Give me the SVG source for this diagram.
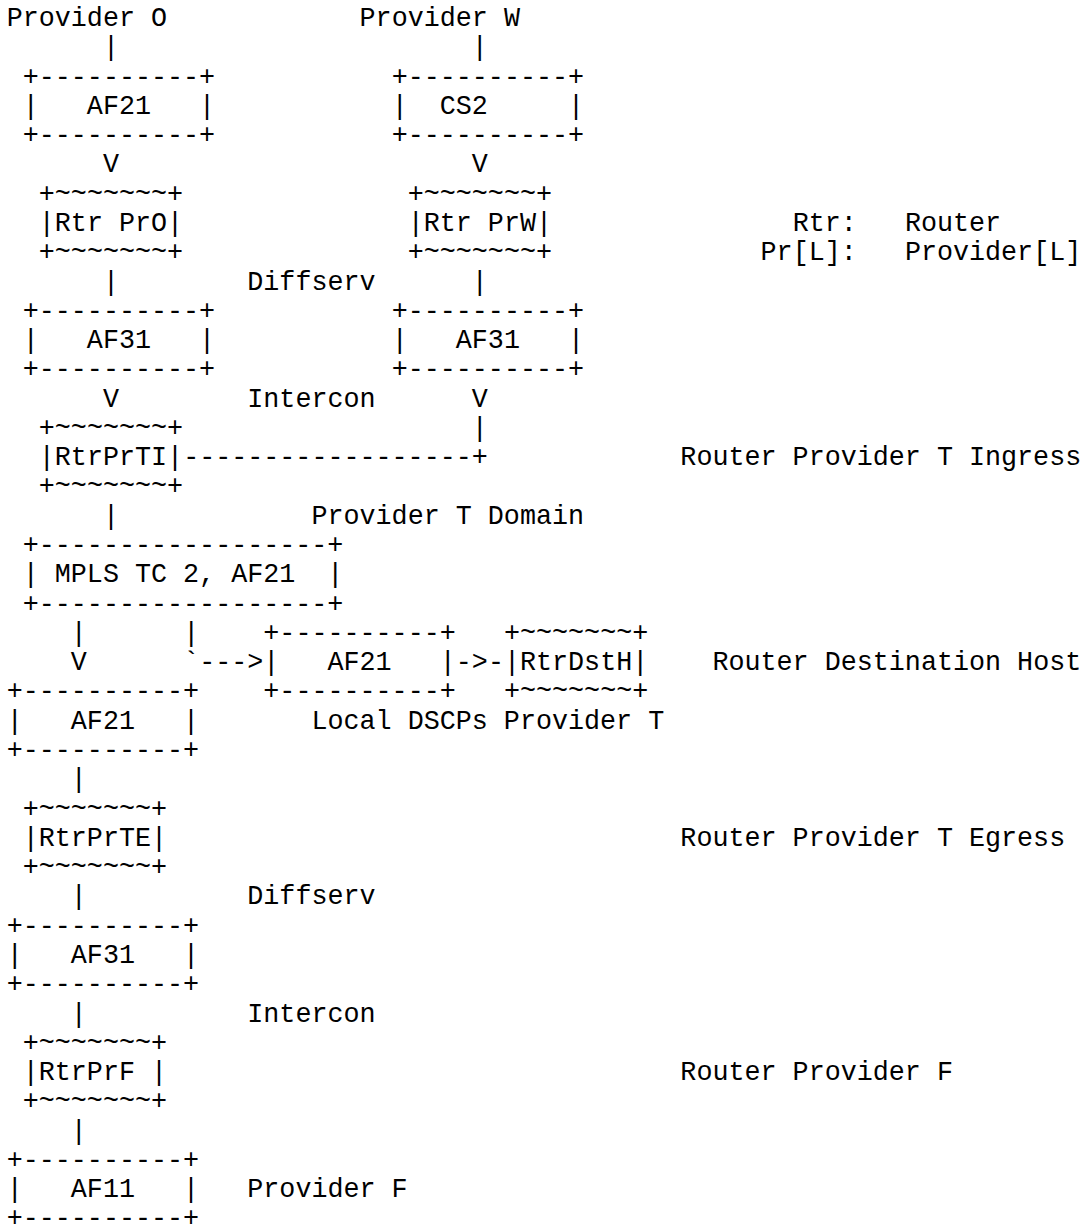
<svg xmlns="http://www.w3.org/2000/svg" width="1084" height="1227" viewBox="0 0 1084 1227">
<style>
text{font-family:"Liberation Mono","DejaVu Sans Mono",monospace;font-size:26.73px;fill:#000;white-space:pre}
</style>
<rect width="1084" height="1227" fill="#fff"/>
<g transform="translate(6.7,26)" xml:space="preserve">
<g id="provider-o"><text x="0" y="0">Provider O</text></g>
<g id="provider-w"><text x="352.88" y="0">Provider W</text></g>
<g id="af21-o">
<text x="16.04" y="58.56">+----------+</text>
<text x="16.04" y="87.84">|   AF21   |</text>
<text x="16.04" y="117.12">+----------+</text>
</g>
<g id="cs2-w">
<text x="384.96" y="58.56">+----------+</text>
<text x="384.96" y="87.84">|  CS2     |</text>
<text x="384.96" y="117.12">+----------+</text>
</g>
<g id="rtr-pro">
<text x="32.08" y="175.68">+~~~~~~~+</text>
<text x="32.08" y="204.96">|Rtr PrO|</text>
<text x="32.08" y="234.24">+~~~~~~~+</text>
</g>
<g id="rtr-prw">
<text x="401" y="175.68">+~~~~~~~+</text>
<text x="401" y="204.96">|Rtr PrW|</text>
<text x="401" y="234.24">+~~~~~~~+</text>
</g>
<g id="legend">
<text x="785.96" y="204.96">Rtr:   Router</text>
<text x="753.88" y="234.24">Pr[L]:   Provider[L]</text>
</g>
<g id="label-diffserv-1"><text x="240.6" y="263.52">Diffserv</text></g>
<g id="af31-o">
<text x="16.04" y="292.8">+----------+</text>
<text x="16.04" y="322.08">|   AF31   |</text>
<text x="16.04" y="351.36">+----------+</text>
</g>
<g id="af31-w">
<text x="384.96" y="292.8">+----------+</text>
<text x="384.96" y="322.08">|   AF31   |</text>
<text x="384.96" y="351.36">+----------+</text>
</g>
<g id="label-intercon-1"><text x="240.6" y="380.64">Intercon</text></g>
<g id="rtr-prti">
<text x="32.08" y="409.92">+~~~~~~~+</text>
<text x="32.08" y="439.2">|RtrPrTI|</text>
<text x="32.08" y="468.48">+~~~~~~~+</text>
</g>
<g id="label-ingress"><text x="673.68" y="439.2">Router Provider T Ingress</text></g>
<g id="label-domain"><text x="304.76" y="497.76">Provider T Domain</text></g>
<g id="mpls">
<text x="16.04" y="527.04">+------------------+</text>
<text x="16.04" y="556.32">| MPLS TC 2, AF21  |</text>
<text x="16.04" y="585.6">+------------------+</text>
</g>
<g id="af21-local">
<text x="256.64" y="614.88">+----------+</text>
<text x="256.64" y="644.16">|   AF21   |</text>
<text x="256.64" y="673.44">+----------+</text>
</g>
<g id="rtr-dsth">
<text x="497.24" y="614.88">+~~~~~~~+</text>
<text x="497.24" y="644.16">|RtrDstH|</text>
<text x="497.24" y="673.44">+~~~~~~~+</text>
</g>
<g id="label-dsth"><text x="705.76" y="644.16">Router Destination Host</text></g>
<g id="af21-t">
<text x="0" y="673.44">+----------+</text>
<text x="0" y="702.72">|   AF21   |</text>
<text x="0" y="732">+----------+</text>
</g>
<g id="label-local"><text x="304.76" y="702.72">Local DSCPs Provider T</text></g>
<g id="rtr-prte">
<text x="16.04" y="790.56">+~~~~~~~+</text>
<text x="16.04" y="819.84">|RtrPrTE|</text>
<text x="16.04" y="849.12">+~~~~~~~+</text>
</g>
<g id="label-egress"><text x="673.68" y="819.84">Router Provider T Egress</text></g>
<g id="label-diffserv-2"><text x="240.6" y="878.4">Diffserv</text></g>
<g id="af31-f">
<text x="0" y="907.68">+----------+</text>
<text x="0" y="936.96">|   AF31   |</text>
<text x="0" y="966.24">+----------+</text>
</g>
<g id="label-intercon-2"><text x="240.6" y="995.52">Intercon</text></g>
<g id="rtr-prf">
<text x="16.04" y="1024.8">+~~~~~~~+</text>
<text x="16.04" y="1054.08">|RtrPrF |</text>
<text x="16.04" y="1083.36">+~~~~~~~+</text>
</g>
<g id="label-prf"><text x="673.68" y="1054.08">Router Provider F</text></g>
<g id="af11">
<text x="0" y="1141.92">+----------+</text>
<text x="0" y="1171.2">|   AF11   |</text>
<text x="0" y="1200.48">+----------+</text>
</g>
<g id="label-provider-f"><text x="240.6" y="1171.2">Provider F</text></g>
<g id="connectors">
<text x="96.24" y="29.28">|</text>
<text x="465.16" y="29.28">|</text>
<text x="96.24" y="146.4">V</text>
<text x="465.16" y="146.4">V</text>
<text x="96.24" y="263.52">|</text>
<text x="465.16" y="263.52">|</text>
<text x="96.24" y="380.64">V</text>
<text x="465.16" y="380.64">V</text>
<text x="465.16" y="409.92">|</text>
<text x="176.44" y="439.2">------------------+</text>
<text x="96.24" y="497.76">|</text>
<text x="64.16" y="614.88">|</text>
<text x="176.44" y="614.88">|</text>
<text x="64.16" y="644.16">V</text>
<text x="176.44" y="644.16">`---&gt;</text>
<text x="449.12" y="644.16">-&gt;-</text>
<text x="64.16" y="761.28">|</text>
<text x="64.16" y="878.4">|</text>
<text x="64.16" y="995.52">|</text>
<text x="64.16" y="1112.64">|</text>
</g>
</g>
</svg>
